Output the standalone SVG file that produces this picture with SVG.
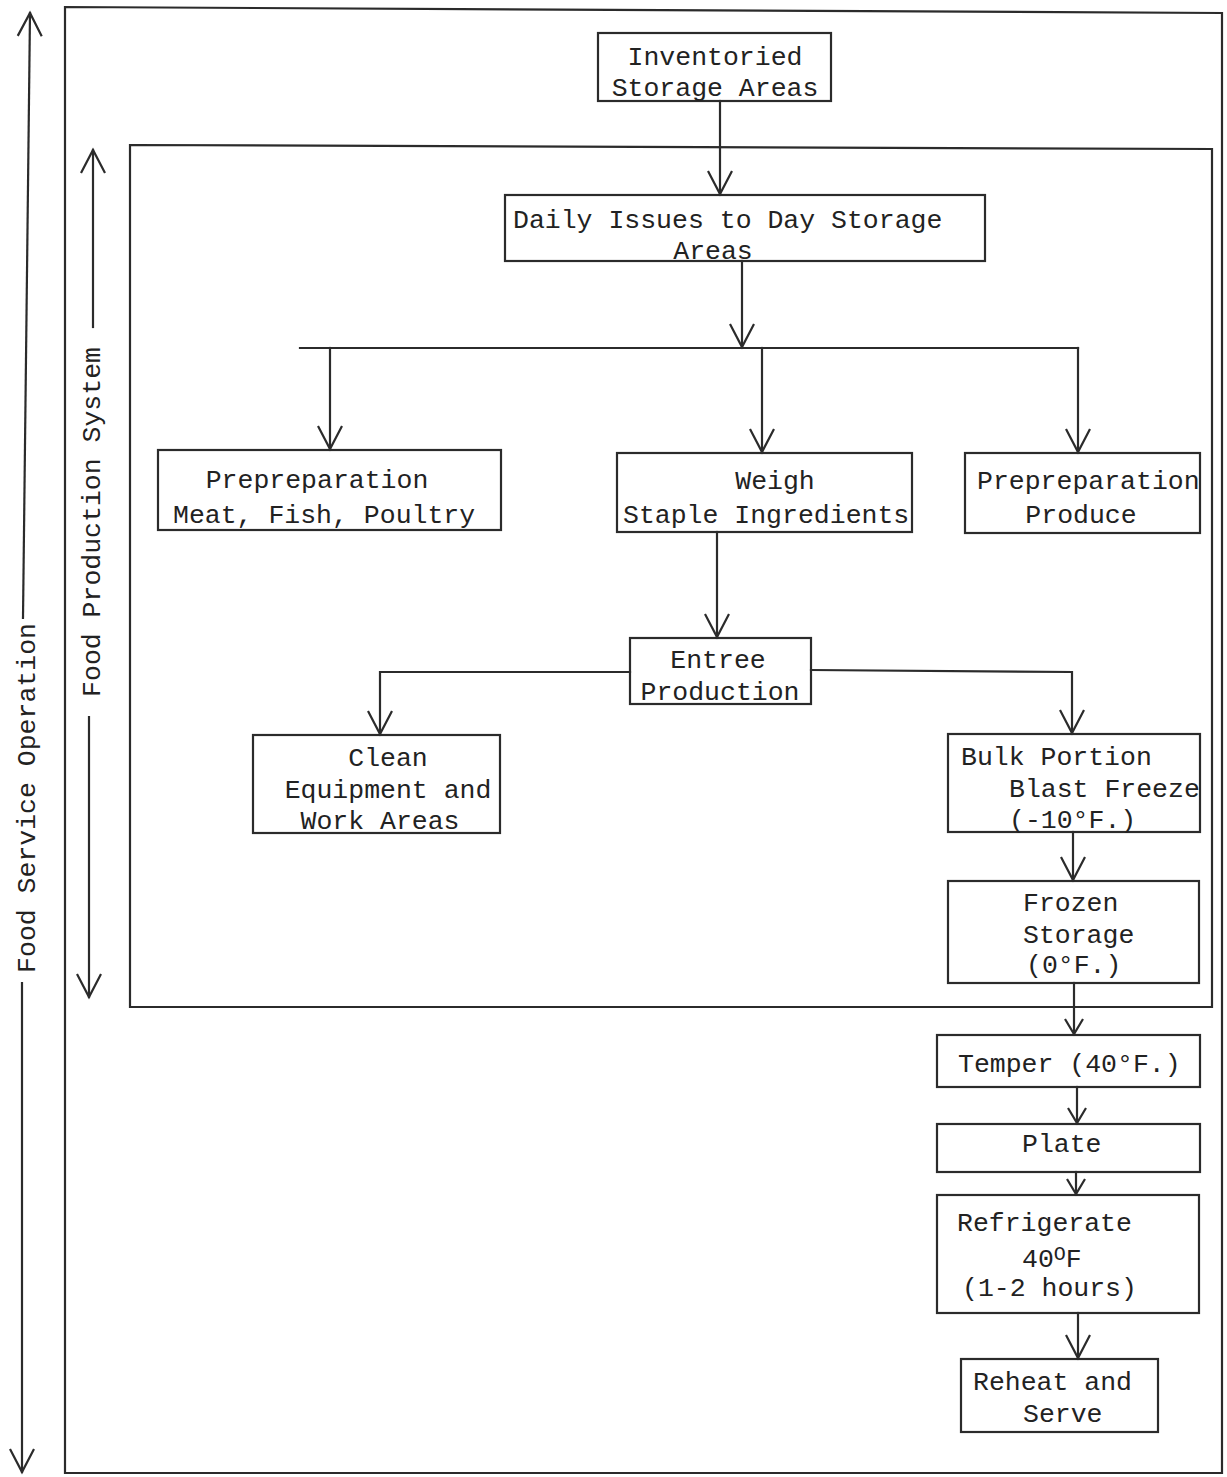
<svg xmlns="http://www.w3.org/2000/svg" width="1227" height="1477" viewBox="0 0 1227 1477">
<style>
.ln{fill:none;stroke:#2b2b2b;stroke-width:2.2;stroke-linecap:square}
.bx{fill:none;stroke:#2b2b2b;stroke-width:2.2}
text{font-family:"Liberation Mono","DejaVu Sans Mono",monospace;font-size:26.5px;fill:#222}
.m{text-anchor:middle}
</style>
<defs>
<marker id="v" markerUnits="userSpaceOnUse" markerWidth="34" markerHeight="34" viewBox="-28 -17 34 34" refX="0" refY="0" orient="auto">
<path d="M-23,-12 L0,0 L-23,12" fill="none" stroke="#2b2b2b" stroke-width="2.2"/>
</marker>
<marker id="vs" markerUnits="userSpaceOnUse" markerWidth="26" markerHeight="26" viewBox="-20 -13 26 26" refX="0" refY="0" orient="auto">
<path d="M-15,-9 L0,0 L-15,9" fill="none" stroke="#2b2b2b" stroke-width="2.2"/>
</marker>
</defs>
<rect width="1227" height="1477" fill="#ffffff"/>

<g id="frames">
<path class="ln" d="M65,1473 L65,7 L1222,13 L1222,1473 L65,1473"/>
<path class="ln" d="M130,1007 L130,145 L1212,149 L1212,1007 L130,1007"/>
</g>

<g id="label-food-service">
<text transform="translate(35,798) rotate(-90)" class="m">Food Service Operation</text>
</g>
<g id="label-food-production">
<text transform="translate(100,522) rotate(-90)" class="m">Food Production System</text>
</g>

<g id="n-inventoried">
<rect class="bx" x="598" y="33" width="233" height="68"/>
<text x="715" y="65" class="m">Inventoried</text>
<text x="715" y="96" class="m">Storage Areas</text>
</g>
<g id="n-daily">
<rect class="bx" x="505" y="195" width="480" height="66"/>
<text x="513" y="228">Daily Issues to Day Storage</text>
<text x="713" y="259" class="m">Areas</text>
</g>
<g id="n-prep-meat">
<rect class="bx" x="158" y="450" width="343" height="80"/>
<text x="317" y="488" class="m">Prepreparation</text>
<text x="173" y="523">Meat, Fish, Poultry</text>
</g>
<g id="n-weigh">
<rect class="bx" x="617" y="453" width="295" height="79"/>
<text x="775" y="489" class="m">Weigh</text>
<text x="623" y="523">Staple Ingredients</text>
</g>
<g id="n-prep-produce">
<rect class="bx" x="965" y="453" width="235" height="80"/>
<text x="977" y="489">Prepreparation</text>
<text x="1081" y="523" class="m">Produce</text>
</g>
<g id="n-entree">
<rect class="bx" x="630" y="638" width="181" height="66"/>
<text x="718" y="668" class="m">Entree</text>
<text x="720" y="700" class="m">Production</text>
</g>
<g id="n-clean">
<rect class="bx" x="253" y="735" width="247" height="98"/>
<text x="388" y="766" class="m">Clean</text>
<text x="388" y="798" class="m">Equipment and</text>
<text x="380" y="829" class="m">Work Areas</text>
</g>
<g id="n-bulk">
<rect class="bx" x="948" y="734" width="252" height="98"/>
<text x="961" y="765">Bulk Portion</text>
<text x="1009" y="797">Blast Freeze</text>
<text x="1009" y="828">(-10°F.)</text>
</g>
<g id="n-frozen">
<rect class="bx" x="948" y="881" width="251" height="102"/>
<text x="1023" y="911">Frozen</text>
<text x="1023" y="943">Storage</text>
<text x="1026" y="973">(0°F.)</text>
</g>
<g id="n-temper">
<rect class="bx" x="937" y="1035" width="263" height="52"/>
<text x="958" y="1072">Temper (40°F.)</text>
</g>
<g id="n-plate">
<rect class="bx" x="937" y="1124" width="263" height="48"/>
<text x="1022" y="1152">Plate</text>
</g>
<g id="n-refrigerate">
<rect class="bx" x="937" y="1195" width="262" height="118"/>
<text x="957" y="1231">Refrigerate</text>
<text x="1022" y="1267">40<tspan font-size="20" dy="-7">O</tspan><tspan dy="7">F</tspan></text>
<text x="962" y="1296">(1-2 hours)</text>
</g>
<g id="n-reheat">
<rect class="bx" x="961" y="1359" width="197" height="73"/>
<text x="973" y="1390">Reheat and</text>
<text x="1023" y="1422">Serve</text>
</g>

<g id="connectors">
<path class="ln" d="M23,618 L30,13" marker-end="url(#v)"/>
<path class="ln" d="M22,983 L22,1472" marker-end="url(#v)"/>
<path class="ln" d="M93,327 L93,150" marker-end="url(#v)"/>
<path class="ln" d="M89,717 L89,997" marker-end="url(#v)"/>

<path class="ln" d="M720,101 L720,194" marker-end="url(#v)"/>
<path class="ln" d="M742,261 L742,347" marker-end="url(#v)"/>
<path class="ln" d="M300,348 L1078,348"/>
<path class="ln" d="M330,348 L330,449" marker-end="url(#v)"/>
<path class="ln" d="M762,348 L762,452" marker-end="url(#v)"/>
<path class="ln" d="M1078,348 L1078,452" marker-end="url(#v)"/>
<path class="ln" d="M717,532 L717,637" marker-end="url(#v)"/>
<path class="ln" d="M630,672 L380,672 L380,734" marker-end="url(#v)"/>
<path class="ln" d="M811,670 L1072,672 L1072,733" marker-end="url(#v)"/>
<path class="ln" d="M1073,832 L1073,880" marker-end="url(#v)"/>
<path class="ln" d="M1074,983 L1074,1034" marker-end="url(#vs)"/>
<path class="ln" d="M1077,1087 L1077,1123" marker-end="url(#vs)"/>
<path class="ln" d="M1076,1172 L1076,1194" marker-end="url(#vs)"/>
<path class="ln" d="M1078,1313 L1078,1358" marker-end="url(#v)"/>
</g>
</svg>
